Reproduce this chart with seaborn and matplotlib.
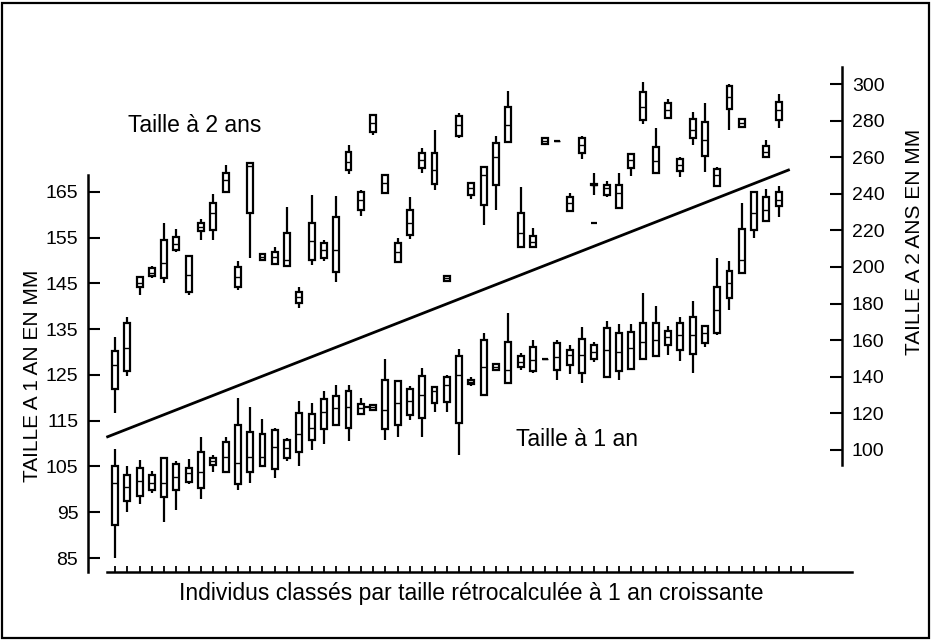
import numpy as np
import pandas as pd
import matplotlib
matplotlib.use("Agg")
import matplotlib.pyplot as plt
from matplotlib.patches import Rectangle
import seaborn as sns

# Five-number summaries (min, Q1, median, Q3, max) per individual, ranked by
# back-calculated size at age 1.  Size at 1 year (left axis, mm).
low_min = [85.0, 95.1, 96.8, 99.3, 92.9, 95.6, 101.1, 97.9, 103.8, 103.5,
           99.9, 101.3, 105.0, 102.4, 106.1, 105.0, 108.5, 109.9, 113.9, 110.6,
           116.2, 117.2, 110.9, 111.5, 115.2, 111.5, 117.0, 117.0, 107.5, 122.6,
           120.6, 126.1, 123.3, 126.2, 125.5, 128.5, 123.8, 125.3, 123.3, 127.9,
           124.4, 123.9, 126.2, 128.3, 129.1, 129.4, 128.1, 125.5, 131.1, 133.7,
           139.1, 147.2, 154.9, 158.7, 159.6]
low_q1 = [92.2, 97.5, 98.6, 99.9, 98.4, 99.9, 101.7, 100.4, 105.3, 103.8,
          101.2, 103.7, 105.0, 104.4, 106.8, 108.1, 110.9, 113.2, 114.1, 113.5,
          116.4, 117.3, 113.2, 114.1, 116.3, 115.7, 118.9, 119.2, 114.6, 123.0,
          120.6, 126.2, 123.3, 126.7, 125.9, 128.5, 126.2, 127.2, 125.4, 128.5,
          124.6, 125.9, 126.4, 128.4, 129.2, 131.6, 130.5, 129.6, 131.9, 134.2,
          141.9, 147.2, 156.7, 158.7, 161.9]
low_med = [101.3, 100.6, 101.9, 101.3, 101.5, 102.8, 103.5, 103.8, 106.1, 107.1,
           105.7, 107.1, 107.1, 109.3, 109.0, 112.2, 113.4, 117.0, 117.7, 118.0,
           117.7, 117.9, 117.3, 118.8, 119.4, 120.6, 121.4, 122.8, 125.0, 123.5,
           126.8, 126.8, 126.1, 127.9, 128.3, 128.5, 129.0, 129.4, 129.4, 130.1,
           130.5, 130.1, 130.8, 132.3, 132.7, 133.2, 133.8, 133.8, 134.1, 139.2,
           145.0, 150.1, 160.3, 161.1, 163.3]
low_q3 = [105.1, 103.1, 104.6, 103.1, 106.8, 105.5, 104.6, 108.2, 106.8, 110.4,
          114.1, 112.6, 112.0, 113.0, 110.9, 116.8, 116.4, 119.7, 120.5, 121.5,
          118.7, 118.5, 123.9, 123.6, 121.9, 124.8, 122.3, 124.6, 129.2, 124.0,
          132.6, 127.4, 132.3, 129.2, 131.2, 128.5, 131.9, 130.5, 132.8, 131.6,
          135.2, 134.2, 134.5, 136.3, 136.3, 134.7, 136.3, 137.6, 135.8, 144.2,
          147.8, 156.9, 164.9, 164.0, 165.1]
low_max = [108.8, 105.1, 106.4, 104.1, 107.1, 106.2, 106.6, 111.5, 107.5, 111.5,
           119.9, 118.1, 115.3, 113.4, 111.2, 119.3, 118.9, 121.6, 122.8, 122.8,
           119.9, 118.6, 128.6, 123.8, 122.6, 126.5, 122.6, 125.1, 130.6, 124.6,
           134.1, 127.5, 138.5, 129.9, 132.6, 128.5, 132.7, 131.6, 135.4, 132.3,
           136.9, 136.1, 136.1, 142.9, 140.1, 135.8, 137.6, 141.2, 135.9, 150.5,
           150.0, 162.7, 165.1, 165.6, 166.3]

# Size at 2 years (right axis, mm); individual 52 has no 2-year record.
up_min = [120.0, 140.4, 184.7, 193.8, 191.1, 208.4, 184.7, 214.8, 214.8, 241.1,
          187.4, 204.8, 203.8, 201.6, 200.5, 177.4, 201.1, 203.3, 192.0, 250.8,
          227.9, 272.1, 240.3, 202.9, 215.1, 251.5, 242.1, 192.2, 270.3, 237.0,
          223.0, 231.1, 268.5, 211.1, 210.8, 267.0, 268.9, 230.8, 258.8, 239.3,
          238.4, 232.1, 249.7, 278.1, 251.2, 281.3, 249.4, 266.7, 252.1, 244.3,
          274.9, 276.7, None, 260.0, 275.8]
up_q1 = [133.2, 143.3, 188.9, 195.1, 193.8, 209.3, 186.5, 219.9, 220.2, 241.1,
         189.2, 229.3, 203.9, 201.6, 200.5, 180.2, 203.8, 204.8, 197.4, 253.0,
         231.1, 273.9, 240.6, 202.9, 217.5, 253.9, 245.4, 192.4, 271.6, 239.3,
         233.9, 244.8, 268.5, 211.1, 210.8, 267.3, 268.9, 230.8, 262.5, 244.8,
         239.3, 232.1, 253.9, 280.3, 251.2, 281.3, 252.6, 270.3, 260.7, 244.3,
         286.2, 276.7, None, 260.0, 280.3]
up_med = [146.4, 155.6, 191.4, 196.9, 202.0, 212.6, 195.6, 222.0, 229.3, 247.5,
          194.7, 255.0, 205.6, 205.6, 203.8, 183.8, 214.2, 209.3, 209.3, 257.5,
          236.6, 278.5, 245.7, 208.4, 223.9, 258.5, 253.0, 193.8, 277.6, 243.0,
          250.3, 260.3, 277.6, 218.4, 213.8, 268.9, 268.9, 234.8, 266.7, 245.0,
          243.0, 240.2, 258.5, 287.6, 257.8, 285.8, 255.7, 274.9, 269.4, 250.3,
          293.1, 278.5, None, 263.0, 285.8]
up_q3 = [154.3, 169.2, 194.4, 199.3, 214.8, 216.2, 206.0, 224.2, 235.1, 251.2,
         200.2, 256.7, 207.3, 208.4, 218.4, 186.5, 224.2, 213.3, 227.2, 263.0,
         241.1, 283.1, 250.3, 213.3, 231.1, 262.5, 262.3, 195.2, 282.5, 245.7,
         254.8, 267.9, 287.6, 229.3, 216.9, 270.5, 268.9, 238.0, 270.3, 245.2,
         244.8, 244.8, 261.6, 295.8, 265.4, 289.4, 258.8, 280.7, 279.4, 253.4,
         298.9, 280.7, None, 266.1, 290.3]
up_max = [161.9, 172.8, 194.7, 200.5, 223.9, 220.6, 206.6, 226.1, 239.9, 255.7,
          203.0, 257.6, 207.6, 210.8, 232.6, 189.2, 239.3, 214.8, 238.8, 266.7,
          242.1, 283.6, 250.6, 215.7, 238.4, 264.9, 274.9, 195.4, 284.3, 246.6,
          255.0, 271.6, 296.3, 243.9, 221.1, 270.8, 268.9, 240.2, 271.6, 251.2,
          247.2, 251.2, 262.1, 301.3, 275.8, 291.6, 260.3, 284.9, 289.8, 254.5,
          300.0, 280.7, None, 269.4, 294.3]

# Isolated single readings drawn as short dashes
lone_low_x, lone_low_y = [20.6], [118.1]
lone_up_x, lone_up_y = [39.0], [224.3]

# Fitted trend separating the two groups (left-axis units)
trend_x = [-0.6, 54.8]
trend_y = [111.5, 169.8]

left_ticks = [85, 95, 105, 115, 125, 135, 145, 155, 165]
right_ticks = [100, 120, 140, 160, 180, 200, 220, 240, 260, 280, 300]

n_ind = len(low_med)
n_ticks = 57


def long_form(*cols):
    rows = []
    for i, vals in enumerate(zip(*cols)):
        if vals[0] is None:
            continue
        for v in vals:
            rows.append((i, v))
    return pd.DataFrame(rows, columns=["individu", "taille"])


df_low = long_form(low_min, low_q1, low_med, low_q3, low_max)
df_up = long_form(up_min, up_q1, up_med, up_q3, up_max)

plt.rcParams["font.family"] = ["Liberation Sans", "DejaVu Sans"]

W, H = 933, 641
fig = plt.figure(figsize=(W / 100, H / 100), dpi=100)


def fx(px):
    return px / W


def fy(py):
    return 1 - py / H


ax = fig.add_axes([fx(88), fy(572), fx(852) - fx(88), fy(67) - fy(572)])
ax2 = ax.twinx()

box_kw = dict(order=list(range(n_ind)), whis=(0, 100), width=0.48,
              color="white", linecolor="black", linewidth=1.6,
              showcaps=False, showfliers=False,
              medianprops=dict(color="black", linewidth=1.0))

sns.boxplot(data=df_low, x="individu", y="taille", ax=ax, **box_kw)
sns.boxplot(data=df_up, x="individu", y="taille", ax=ax2, **box_kw)
sns.lineplot(x=trend_x, y=trend_y, ax=ax, color="black", linewidth=2.0)
ax.scatter(lone_low_x, lone_low_y, marker="_", s=25, linewidths=1.6, color="black")
ax2.scatter(lone_up_x, lone_up_y, marker="_", s=25, linewidths=1.6, color="black")

# Axis ranges
ax.set_xlim(-2.197, 59.97)
ax.set_ylim(81.94, 192.32)
ax2.set_ylim(33.3, 309.3)

# Left axis
ax.spines["top"].set_visible(False)
ax.spines["right"].set_visible(False)
ax.spines["left"].set_linewidth(1.8)
ax.spines["left"].set_bounds(81.94, 168.7)
ax.spines["bottom"].set_linewidth(1.8)
ax.spines["bottom"].set_bounds(-0.65, 59.97)
ax.set_yticks(left_ticks)
ax.set_yticklabels([str(t) for t in left_ticks])
ax.tick_params(axis="y", direction="in", length=8.5, width=1.5,
               labelsize=14, pad=7)
ax.set_xticks(range(n_ticks))
ax.set_xticklabels([""] * n_ticks)
ax.tick_params(axis="x", direction="in", length=4, width=1.3)
ax.set_xlabel("")
ax.set_ylabel("")

# Right axis
for side in ["top", "left", "bottom"]:
    ax2.spines[side].set_visible(False)
ax2.spines["right"].set_position(("axes", (842 - 88) / (852 - 88)))
ax2.spines["right"].set_linewidth(1.8)
ax2.spines["right"].set_bounds(91.8, 309.3)
ax2.set_yticks(right_ticks)
ax2.set_yticklabels([str(t) for t in right_ticks])
ax2.tick_params(axis="y", direction="in", length=9, width=1.5,
                labelsize=14, pad=7)
ax2.xaxis.set_visible(False)
ax2.set_xlabel("")
ax2.set_ylabel("")

# Annotations
fig.text(fx(128), fy(131.5), "Taille à 2 ans", fontsize=16.5,
         ha="left", va="baseline")
fig.text(fx(516), fy(446.5), "Taille à 1 an", fontsize=16.5,
         ha="left", va="baseline")
fig.text(fx(471), fy(600), "Individus classés par taille rétrocalculée à 1 an croissante",
         fontsize=16.5, ha="center", va="baseline")
fig.text(fx(38.5), fy(376), "TAILLE A 1 AN EN MM", fontsize=15, rotation=90,
         rotation_mode="anchor", ha="center", va="baseline")
fig.text(fx(920), fy(242), "TAILLE A 2 ANS EN MM", fontsize=15, rotation=90,
         rotation_mode="anchor", ha="center", va="baseline")

# Outer frame
fig.patches.append(Rectangle((fx(2), fy(638)), fx(929) - fx(2), fy(3) - fy(638),
                             transform=fig.transFigure, fill=False,
                             linewidth=1.6, edgecolor="black"))

fig.savefig("out.png", dpi=100)
